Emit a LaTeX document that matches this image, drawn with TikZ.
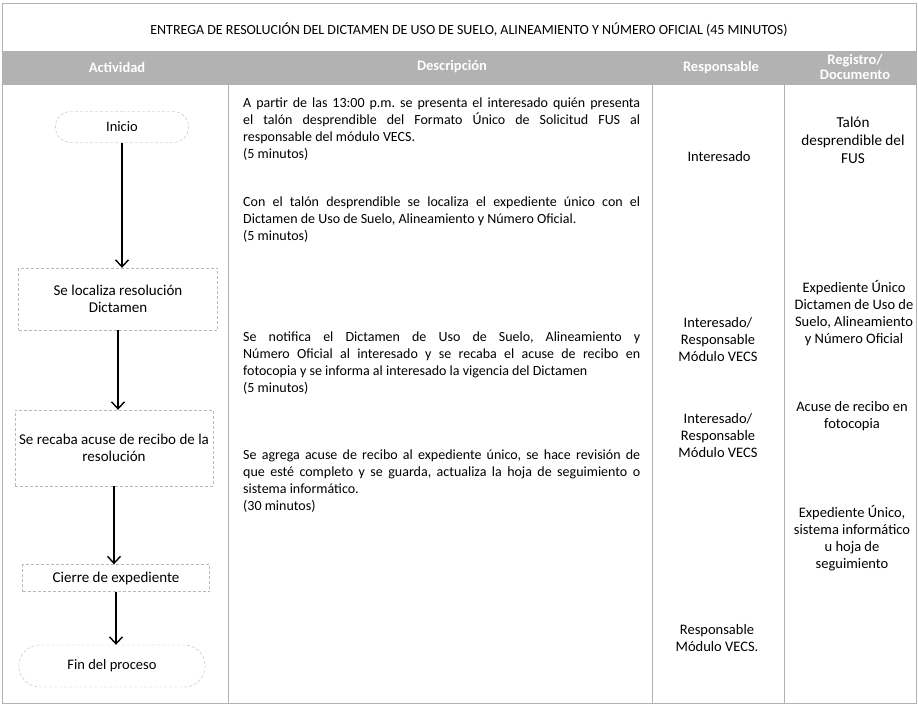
\documentclass[tikz,border=0pt]{standalone}
\usepackage{fontspec}
\setmainfont{Carlito}
\usetikzlibrary{arrows.meta,shapes.misc}
\frenchspacing

\begin{document}
\begin{tikzpicture}[x=1pt, y=-1pt,
    grid/.style={draw=gray!60, line width=0.6pt},
    terminal/.style={rounded rectangle, draw=gray!55, densely dashed, font=\fontsize{14.5}{16}\selectfont},
    activity/.style={rectangle, draw=gray!55, densely dashed, align=center, font=\fontsize{15}{17}\selectfont},
    head/.style={text=white, font=\bfseries\fontsize{14.5}{15}\selectfont, align=center},
    desc/.style={anchor=north west, inner sep=0pt, text width=397pt, align=justify, font=\fontsize{14}{16.8}\selectfont},
    resp/.style={align=center, font=\fontsize{14.5}{17}\selectfont},
    docu/.style={align=center, font=\fontsize{14.5}{16.8}\selectfont},
    line/.style={draw, -{Straight Barb[length=7pt, width=13pt]}, line width=1.4pt}
]
    \useasboundingbox (0,0) rectangle (918,721);

    % table frame
    \fill [gray!60] (2,52) rectangle (916,84);
    \draw [grid] (2,3) rectangle (916,703);
    \draw [grid] (2,51) -- (916,51);
    \draw [grid] (2,84) -- (916,84);
    \draw [grid] (228,84) -- (228,703);
    \draw [grid] (652,84) -- (652,703);
    \draw [grid] (784,52) -- (784,703);

    \node [font=\fontsize{14}{15}\selectfont] (title) at (469,30) {ENTREGA DE RESOLUCIÓN DEL DICTAMEN DE USO DE SUELO, ALINEAMIENTO Y NÚMERO OFICIAL (45 MINUTOS)};

    \node [head] (h_act) at (117,67) {Actividad};
    \node [head] (h_desc) at (452,67) {Descripción};
    \node [head] (h_resp) at (721,68) {Responsable};
    \node [head] (h_doc) at (855,67) {Registro/\\Documento};

    % flow
    \node [terminal, minimum width=140pt, minimum height=31pt] (inicio) at (122,127) {Inicio};
    \node [activity, minimum width=199pt, minimum height=62pt] (localiza) at (118,299) {Se localiza resolución\\Dictamen};
    \node [activity, minimum width=198pt, minimum height=76pt] (recaba) at (114,448) {Se recaba acuse de recibo de la\\resolución};
    \node [activity, minimum width=187pt, minimum height=27pt] (cierre) at (116,578) {Cierre de expediente};
    \node [terminal, minimum width=193pt, minimum height=42pt] (fin) at (112,666) {Fin del proceso};

    \draw [line] (inicio.south) -- (inicio.south |- localiza.north);
    \draw [line] (localiza.south) -- (localiza.south |- recaba.north);
    \draw [line] (recaba.south) -- (recaba.south |- cierre.north);
    \draw [line] (cierre.south) -- (cierre.south |- fin.north);

    % descriptions
    \node [desc] (d1) at (243,98) {A partir de las 13:00 p.m. se presenta el interesado quién presenta\linebreak el talón desprendible del Formato Único de Solicitud FUS al\linebreak responsable del módulo VECS.\\(5 minutos)};
    \node [desc] (d2) at (243,197) {Con el talón desprendible se localiza el expediente único con el\linebreak Dictamen de Uso de Suelo, Alineamiento y Número Oficial.\\(5 minutos)};
    \node [desc] (d3) at (243,332) {Se notifica el Dictamen de Uso de Suelo, Alineamiento y\linebreak Número Oficial al interesado y se recaba el acuse de recibo en\linebreak fotocopia y se informa al interesado la vigencia del Dictamen\\(5 minutos)};
    \node [desc] (d4) at (243,450) {Se agrega acuse de recibo al expediente único, se hace revisión de\linebreak que esté completo y se guarda, actualiza la hoja de seguimiento o\linebreak sistema informático.\\(30 minutos)};

    % responsables
    \node [resp] (r1) at (719,157) {Interesado};
    \node [resp] (r2) at (718,340) {Interesado/\\Responsable\\Módulo VECS};
    \node [resp] (r3) at (718,436) {Interesado/\\Responsable\\Módulo VECS};
    \node [resp] (r4) at (717,638) {Responsable\\Módulo VECS.};

    % registros
    \node [docu, font=\fontsize{15.2}{18}\selectfont] (g1) at (853,140) {Talón\\desprendible del\\FUS};
    \node [docu] (g2) at (854,313) {Expediente Único\\Dictamen de Uso de\\Suelo, Alineamiento\\y Número Oficial};
    \node [docu] (g3) at (852,416) {Acuse de recibo en\\fotocopia};
    \node [docu] (g4) at (852,538) {Expediente Único,\\sistema informático\\u hoja de\\seguimiento};
\end{tikzpicture}
\end{document}
